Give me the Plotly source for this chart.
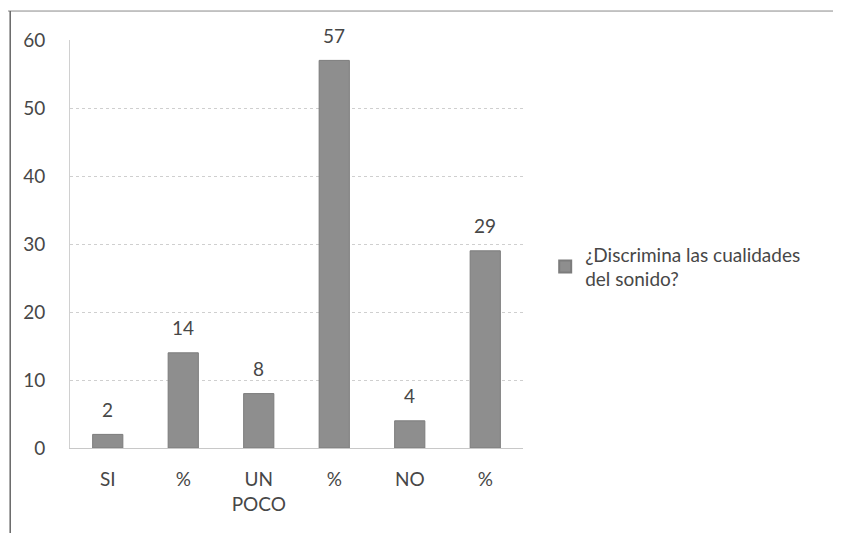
import plotly.graph_objects as go

categories = ["SI", "%", "UN<br>POCO", "%", "NO", "%"]
values = [2, 14, 8, 57, 4, 29]
series_name = "¿Discrimina las cualidades<br>del sonido?"
y_ticks = [0, 10, 20, 30, 40, 50, 60]

positions = list(range(len(categories)))
FONT = "Lato, Open Sans, DejaVu Sans, sans-serif"
TXT = "#474747"

fig = go.Figure()
fig.add_trace(go.Bar(
    x=positions, y=values, name=series_name,
    marker=dict(color="#8e8e8e", line=dict(color="#7c7c7c", width=1)),
    showlegend=True,
))

annotations = [
    dict(x=p, y=v, text=str(v), xref="x", yref="y", showarrow=False,
         yanchor="middle", yshift=25, font=dict(family=FONT, size=19, color=TXT))
    for p, v in zip(positions, values)
]

fig.update_layout(
    width=833, height=525,
    margin=dict(l=62, r=318, t=32, b=85),
    paper_bgcolor="white", plot_bgcolor="white",
    font=dict(family=FONT, size=19, color=TXT),
    bargap=0.6,
    showlegend=True,
    legend=dict(x=1.049, y=0.444, xanchor="left", yanchor="middle",
                font=dict(family=FONT, size=19, color=TXT), itemsizing="constant"),
    annotations=annotations,
    shapes=[
        dict(type="line", xref="paper", yref="paper", x0=-0.14, x1=1.72, y0=1.071, y1=1.071,
             line=dict(color="#8a8a8a", width=1)),
        dict(type="line", xref="paper", yref="paper", x0=-0.132, x1=-0.132, y0=-0.22, y1=1.071,
             line=dict(color="#666666", width=1.5)),
    ],
)
fig.update_xaxes(
    tickvals=positions, ticktext=categories, range=[-0.5, len(categories) - 0.5],
    showgrid=False, showline=True, linecolor="#c8c8c8", ticks="",
    tickfont=dict(family=FONT, size=19, color=TXT), ticklabelstandoff=14,
)
fig.update_yaxes(
    range=[0, 60], tickvals=y_ticks, showgrid=True, gridcolor="#cfcfcf", griddash="dot",
    showline=True, linecolor="#d0d0d0", zeroline=False, ticks="",
    tickfont=dict(family=FONT, size=19, color=TXT), ticklabelstandoff=20,
)

fig.write_html("out.html")
